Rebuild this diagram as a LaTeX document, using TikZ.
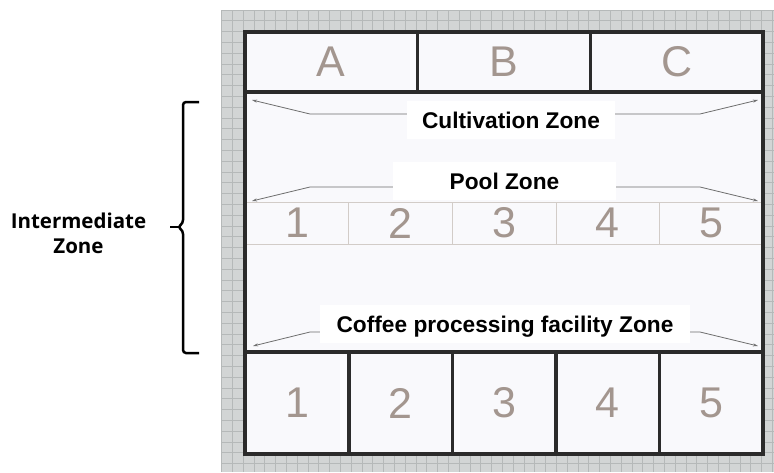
\documentclass[tikz,border=0pt]{standalone}
\usepackage{fontspec}
\setmainfont{Liberation Sans}
\newfontfamily\sidefont{Open Sans}
\usetikzlibrary{arrows.meta}
\definecolor{gridfill}{HTML}{D2D5D5}
\definecolor{gridline}{HTML}{B5B9B9}
\definecolor{roomfill}{HTML}{F9F9FC}
\definecolor{framecol}{HTML}{2B2B2B}
\definecolor{digitcol}{HTML}{A3968F}
\definecolor{poolline}{HTML}{D2CCC8}
\definecolor{pointcol}{HTML}{6E6E6E}

\begin{document}
\begin{tikzpicture}[x=1pt,y=-1pt,
    cell/.style ={draw=framecol, line width=3.5pt, fill=roomfill, inner sep=0pt,
                  text=digitcol, font=\fontsize{43}{43}\selectfont},
    poolcell/.style ={draw=poolline, line width=1pt, inner sep=0pt,
                  minimum width=103.6pt, minimum height=42pt,
                  text=digitcol, font=\fontsize{43}{43}\selectfont},
    zonelabel/.style ={fill=white, inner sep=0pt, minimum height=38pt,
                  text height=16pt, text depth=0pt,
                  font=\fontsize{22.7}{24}\selectfont\bfseries},
    pointer/.style ={draw=pointcol, line width=0.8pt,
                  -{Stealth[length=5pt,width=3pt]}}]
   \useasboundingbox (0,0) rectangle (774,472);

   % grid paper
   \fill[gridfill] (221.5,10) rectangle (774,472);
   \foreach \i in {0,...,51}
     \draw[gridline, line width=0.7pt] ({221.5+10.8*\i},10) -- ++(0,462);
   \foreach \j in {0,...,42}
     \draw[gridline, line width=0.7pt] (221.5,{10+10.8*\j}) -- ++(552.5,0);

   % site
   \fill[roomfill] (245,32) rectangle (763,454);

   % pool row
   \node[poolcell] (P1) at (297,223)   {1};
   \node[poolcell] (P2) at (400.6,223) {2};
   \node[poolcell] (P3) at (504.2,223) {3};
   \node[poolcell] (P4) at (607.8,223) {4};
   \node[poolcell] (P5) at (711.4,223) {5};

   % top row
   \node[cell, minimum width=172.7pt, minimum height=60pt] (A) at (331.3,62) {A};
   \node[cell, minimum width=172.7pt, minimum height=60pt] (B) at (504,62)   {B};
   \node[cell, minimum width=172.7pt, minimum height=60pt] (C) at (676.7,62) {C};

   % bottom row
   \node[cell, minimum width=103.6pt, minimum height=102pt] (F1) at (297,403)   {1};
   \node[cell, minimum width=103.6pt, minimum height=102pt] (F2) at (400.6,403) {2};
   \node[cell, minimum width=103.6pt, minimum height=102pt] (F3) at (504.2,403) {3};
   \node[cell, minimum width=103.6pt, minimum height=102pt] (F4) at (607.8,403) {4};
   \node[cell, minimum width=103.6pt, minimum height=102pt] (F5) at (711.4,403) {5};

   \draw[framecol, line width=4pt] (245,32) rectangle (763,454);

   % zone labels
   \node[zonelabel, minimum width=208pt] (cult) at (511,120) {Cultivation Zone};
   \node[zonelabel, minimum width=223pt] (pool) at (504.5,181) {Pool Zone};
   \node[zonelabel, minimum width=370pt] (coffee) at (505,324) {Coffee processing facility Zone};

   \coordinate (cultL) at (310,114);  \coordinate (cultLtip) at (252,100);
   \coordinate (cultR) at (700,114);  \coordinate (cultRtip) at (758,100);
   \coordinate (poolL) at (310,187);  \coordinate (poolLtip) at (252,201);
   \coordinate (poolR) at (700,187);  \coordinate (poolRtip) at (758,201);
   \coordinate (cofL) at (310,332);   \coordinate (cofLtip) at (253,346);
   \coordinate (cofR) at (700,332);   \coordinate (cofRtip) at (758,346);

   \draw[pointer] (cult.west |- cultL) -- (cultL) -- (cultLtip);
   \draw[pointer] (cult.east |- cultR) -- (cultR) -- (cultRtip);
   \draw[pointer] (pool.west |- poolL) -- (poolL) -- (poolLtip);
   \draw[pointer] (pool.east |- poolR) -- (poolR) -- (poolRtip);
   \draw[pointer] (coffee.west |- cofL) -- (cofL) -- (cofLtip);
   \draw[pointer] (coffee.east |- cofR) -- (cofR) -- (cofRtip);

   % intermediate zone brace
   \node[align=center, font=\sidefont\fontsize{20.5}{25}\selectfont\bfseries] (interm) at (78.5,233)
     {Intermediate\\Zone};
   \draw[line width=2.5pt, rounded corners=3pt] (199,102) -- (183,102) -- (183,223)
     -- (178,227) -- (183,231) -- (183,353) -- (199,353);
   \draw[line width=2.5pt] (170,227) -- (179,227);
 \end{tikzpicture}
\end{document}
